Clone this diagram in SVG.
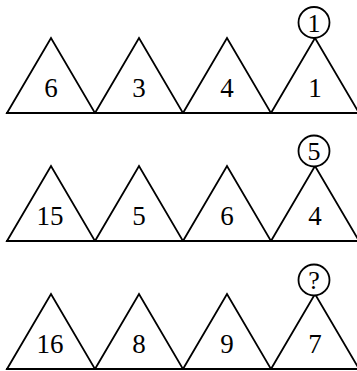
<svg xmlns="http://www.w3.org/2000/svg" width="357" height="371" viewBox="0 0 357 371">
<style>
.tri{fill:none;stroke:#000;stroke-width:1.8;stroke-linejoin:miter}
.base{stroke:#000;stroke-width:2}
.circ{fill:#fff;stroke:#000;stroke-width:1.8}
text{font-family:"Liberation Serif","Times New Roman",serif;text-anchor:middle;fill:#000}
.n{font-size:27px}
.c{font-size:26px}
</style>
<defs>
<polygon id="t" points="7,113 51,38 95,113"/>
</defs>
<g id="connectors">
<line class="base" x1="6" y1="113" x2="357" y2="113"/>
<line class="base" x1="6" y1="241" x2="357" y2="241"/>
<line class="base" x1="6" y1="369" x2="357" y2="369"/>
</g>
<g id="row1">
<g id="r1t1"><use href="#t" class="tri"/><text class="n" x="51" y="97">6</text></g>
<g id="r1t2"><use href="#t" class="tri" x="88"/><text class="n" x="139" y="97">3</text></g>
<g id="r1t3"><use href="#t" class="tri" x="176"/><text class="n" x="227" y="97">4</text></g>
<g id="r1t4"><use href="#t" class="tri" x="264"/><text class="n" x="315" y="97">1</text></g>
<g id="r1c"><circle class="circ" cx="314" cy="22.5" r="15.5"/><text class="c" x="314" y="31.5">1</text></g>
</g>
<g id="row2">
<g id="r2t1"><use href="#t" class="tri" y="128"/><text class="n" x="50" y="225">15</text></g>
<g id="r2t2"><use href="#t" class="tri" x="88" y="128"/><text class="n" x="139" y="225">5</text></g>
<g id="r2t3"><use href="#t" class="tri" x="176" y="128"/><text class="n" x="227" y="225">6</text></g>
<g id="r2t4"><use href="#t" class="tri" x="264" y="128"/><text class="n" x="315" y="225">4</text></g>
<g id="r2c"><circle class="circ" cx="314" cy="151" r="15.5"/><text class="c" x="314" y="160">5</text></g>
</g>
<g id="row3">
<g id="r3t1"><use href="#t" class="tri" y="256"/><text class="n" x="50" y="353">16</text></g>
<g id="r3t2"><use href="#t" class="tri" x="88" y="256"/><text class="n" x="139" y="353">8</text></g>
<g id="r3t3"><use href="#t" class="tri" x="176" y="256"/><text class="n" x="227" y="353">9</text></g>
<g id="r3t4"><use href="#t" class="tri" x="264" y="256"/><text class="n" x="315" y="353">7</text></g>
<g id="r3c"><circle class="circ" cx="314" cy="280" r="15.5"/><text class="c" x="314" y="289">?</text></g>
</g>
</svg>
